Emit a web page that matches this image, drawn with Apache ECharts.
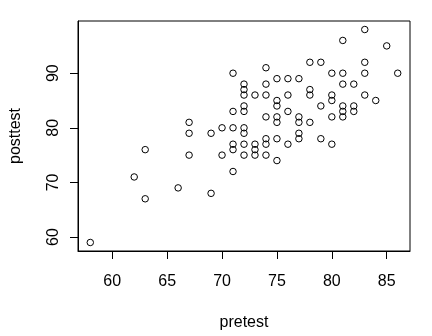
<!DOCTYPE html>
<html>
<head>
<meta charset="utf-8">
<script src="https://cdn.jsdelivr.net/npm/echarts@6/dist/echarts.min.js"></script>
<style>
html,body{margin:0;padding:0;background:#fff;}
#chart{width:432px;height:336px;}
</style>
</head>
<body>
<div id="chart"></div>
<script>
const pretest = [58,62,63,63,66,67,67,67,69,69,70,70,
  71,71,71,71,71,71,
  72,72,72,72,72,72,72,72,72,
  73,73,73,73,
  74,74,74,74,74,74,74,
  75,75,75,75,75,75,75,
  76,76,76,76,
  77,77,77,77,77,
  78,78,78,78,
  79,79,79,
  80,80,80,80,80,
  81,81,81,81,81,81,
  82,82,82,
  83,83,83,83,
  84,85,86];
const posttest = [59,71,76,67,69,81,79,75,79,68,80,75,
  90,83,80,77,76,72,
  88,87,86,84,83,80,79,77,75,
  86,77,76,75,
  91,88,86,82,78,77,75,
  89,85,84,82,81,78,74,
  89,86,83,77,
  89,82,81,79,78,
  92,87,86,81,
  92,84,78,
  90,86,85,82,77,
  96,90,88,84,83,82,
  88,84,83,
  98,92,90,86,
  85,95,90];
const xTicks = [60,65,70,75,80,85];
const yTicks = [60,70,80,90];
const xName = 'pretest';
const yName = 'posttest';

const points = pretest.map((v,i)=>[v,posttest[i]]);
const font = 'Liberation Sans, Arial, sans-serif';
const chart = echarts.init(document.getElementById('chart'), null, {renderer:'canvas'});
chart.setOption({
  animation:false,
  backgroundColor:'#fff',
  grid:{left:78,right:22,top:21,bottom:79,show:true,borderColor:'#000',borderWidth:1,backgroundColor:'transparent'},
  xAxis:{
    type:'value',min:56.88,max:87.12,
    name:xName,nameLocation:'middle',nameGap:64,
    nameTextStyle:{color:'#000',fontSize:16,fontFamily:font},
    axisLine:{show:true,lineStyle:{color:'#000',width:1}},
    axisTick:{show:true,length:8,lineStyle:{color:'#000',width:1},customValues:xTicks},
    axisLabel:{color:'#000',fontSize:16,fontFamily:font,margin:23,customValues:xTicks},
    splitLine:{show:false}
  },
  yAxis:{
    type:'value',min:57.44,max:99.56,
    name:yName,nameLocation:'middle',nameGap:54,
    nameTextStyle:{color:'#000',fontSize:16,fontFamily:font},
    axisLine:{show:true,lineStyle:{color:'#000',width:1}},
    axisTick:{show:true,length:8,lineStyle:{color:'#000',width:1},customValues:yTicks},
    axisLabel:{color:'#000',fontSize:16,fontFamily:font,margin:16,rotate:90,customValues:yTicks},
    splitLine:{show:false}
  },
  series:[{
    type:'scatter',
    data:points,
    symbol:'circle',
    symbolSize:6.5,
    itemStyle:{color:'transparent',borderColor:'#000',borderWidth:1,opacity:1}
  }]
});
</script>
</body>
</html>
